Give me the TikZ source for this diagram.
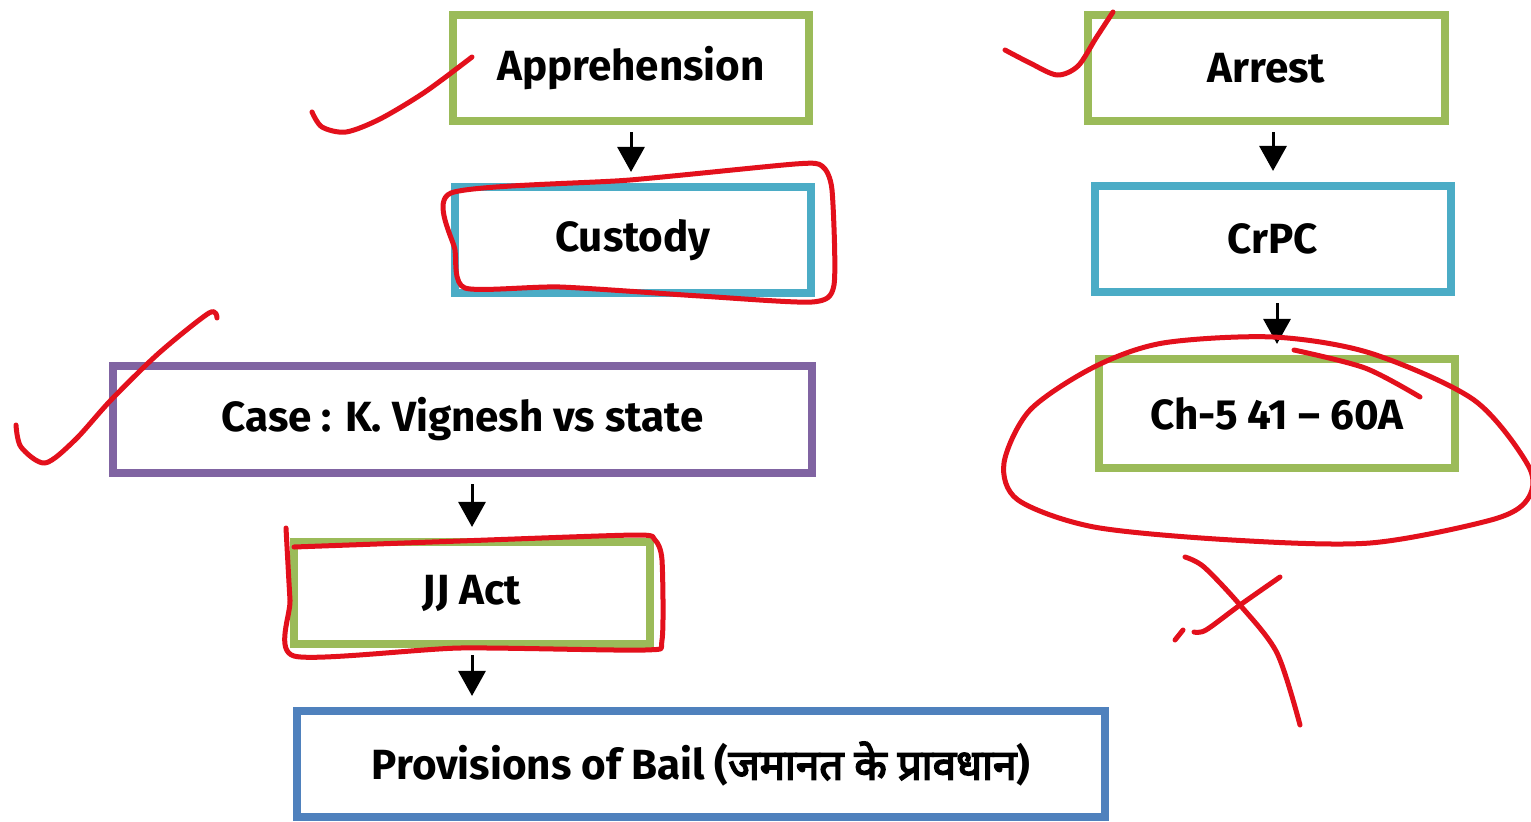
\documentclass[tikz,border=0pt]{standalone}
\usepackage{fontspec}
\setmainfont{Fira Sans}
\newfontfamily\hindifont[Script=Devanagari]{Noto Sans}
\newcommand\thickdeva[1]{\special{pdf:code q 2 Tr 0.45 w}#1\special{pdf:code Q}}
\usetikzlibrary{arrows.meta}
\definecolor{grn}{HTML}{9BBB59}
\definecolor{lblu}{HTML}{4BACC6}
\definecolor{purp}{HTML}{8064A2}
\definecolor{dblu}{HTML}{4F81BD}
\definecolor{pen}{HTML}{E3101C}
\tikzset{
  flowbox/.style = {rectangle, align=center, inner sep=0pt, fill=white, line width=0.08cm,
    font=\bfseries\fontsize{12}{14}\selectfont, minimum width=3.56cm, minimum height=1.06cm},
  fb_g/.style = {flowbox, draw=grn},
  fb_b/.style = {flowbox, draw=lblu},
  fb_p/.style = {flowbox, draw=purp},
  fb_d/.style = {flowbox, draw=dblu},
  arr/.style = {-{Triangle[width=0.27cm,length=0.25cm]}, line width=0.03cm,
    shorten <=0.07cm, shorten >=0.11cm},
  redpen/.style = {draw=pen, line width=0.05cm, line cap=round, line join=round}
}
\begin{document}
\begin{tikzpicture}[x=0.01cm, y=-0.01cm]
\useasboundingbox (0,0) rectangle (1531,821);
\node [fb_g] (appr) at (631,68) {Apprehension};
\node [fb_b] (cust) at (633,240) {Custody};
\node [fb_g] (arrest) at (1266.5,68) {Arrest};
\node [fb_b] (crpc) at (1273,239) {CrPC};
\node [fb_g, minimum height=1.09cm] (chfive) at (1277,413.5) {Ch-5 41 – 60A};
\node [fb_p, minimum width=6.99cm, minimum height=1.07cm] (case) at (462.5,419.5) {Case : K. Vignesh vs state};
\node [fb_g, minimum height=1.02cm] (jjact) at (472,593) {JJ Act};
\node [fb_d, minimum width=8.08cm] (bail) at (701,764) {Provisions of Bail ({\hindifont\thickdeva{जमानत के प्रावधान}})};

\draw [arr] (appr.south) -- (appr.south |- cust.north);
\draw [arr] (crpc.north |- arrest.south) -- (crpc.north);
\draw [arr] (crpc.south -| chfive.north) -- (chfive.north);
\draw [arr] (case.south -| jjact.north) -- (jjact.north);
\draw [arr] (jjact.south) -- (jjact.south |- bail.north);

\draw [redpen] plot [smooth] coordinates {(312,112) (322,127) (346,132) (380,119) (425,92) (472,57)};
\draw [redpen] plot [smooth] coordinates {(1005,50) (1030,63) (1057,75) (1078,66) (1096,38) (1113,12)};
\draw [redpen] plot [smooth] coordinates {(16,425) (21,447) (45,463) (75,440) (111,400) (159,353) (209,313) (217,318)};
\draw [redpen] plot [smooth cycle, tension=0.4] coordinates {(451,193) (630,180) (795,164) (822,166) (832,190) (834,285) (812,302) (700,296) (560,287) (465,288) (455,250)};
\draw [redpen] plot [smooth, tension=0.4] coordinates {(286,528) (290,600) (294,656) (460,648) (645,650) (662,640) (662,560) (655,540) (636,535) (460,541) (294,547)};
\draw [redpen] plot [smooth cycle] coordinates {(1273,337) (1370,353) (1474,400) (1529,467) (1527,500) (1491,520) (1370,543) (1232,540) (1094,527) (1018,500) (1004,463) (1030,410) (1094,367) (1163,343)};
\draw [redpen] plot [smooth] coordinates {(1294,350) (1365,368) (1420,397)};
\draw [redpen] plot [smooth] coordinates {(1185,557) (1204,567) (1240,605) (1277,653) (1300,725)};
\draw [redpen] plot [smooth] coordinates {(1280,577) (1240,605) (1206,630) (1194,632)};
\draw [redpen] (1175,640) -- (1183,630);
\end{tikzpicture}
\end{document}
